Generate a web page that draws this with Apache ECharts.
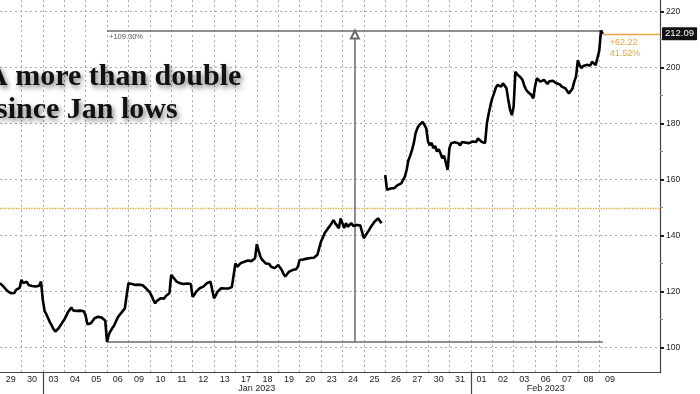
<!DOCTYPE html>
<html><head><meta charset="utf-8">
<script src="https://cdn.jsdelivr.net/npm/echarts@6/dist/echarts.min.js"></script>
<style>html,body{margin:0;padding:0;background:#fff}#c{width:700px;height:394px}</style>
</head><body><div id="c"></div>
<script>
// ---- data ----
const dayLabels = ['29','30','03','04','05','06','09','10','11','12','13','17','18','19','20','23','24','25','26','27','30','31','01','02','03','06','07','08','09'];
const monthNames = ['Jan 2023','Feb 2023'];
const monthStartIdx = [2, 22];
const yTicks = [100,120,140,160,180,200,220];
const yMinorTicks = [110,130,150,170,190,210];
const prevClose = 149.87;
const titleLines = ['A more than double','since Jan lows'];
const samplesPerDay = 12;

const dec29 = [122.9,122.2,121.7,121.0,120.2,119.5,119.3,119.8,119.4,120.5,120.3,121.2];
const dec30 = [124.1,123.0,122.9,123.4,122.3,122.6,121.9,122.1,121.7,122.2,122.0,123.5];
const jan03 = [117.0,113.0,111.8,110.4,108.9,107.8,106.5,105.6,106.2,106.9,107.6,108.9];
const jan04 = [109.8,111.0,112.4,113.3,114.2,113.2,113.9,113.0,113.7,113.1,113.6,112.9];
const jan05 = [111.4,108.2,107.5,108.6,109.3,110.4,109.9,110.9,110.3,110.6,110.0,109.6];
const jan06 = [101.9,104.5,105.8,106.9,107.8,109.2,110.6,111.5,112.0,113.1,113.9,113.3];
const jan09 = [122.9,123.5,122.6,122.9,122.3,123.0,122.4,121.8,122.2,121.6,121.0,120.3];
const jan10 = [119.6,118.4,116.9,115.7,116.6,116.2,117.5,117.9,117.4,118.3,118.6,119.3];
const jan11 = [125.9,125.1,124.5,123.5,124.0,122.9,123.3,122.6,122.3,122.8,122.4,122.6];
const jan12 = [118.0,118.8,119.9,120.5,121.1,120.6,121.7,121.2,122.9,122.4,123.5,123.9];
const jan13 = [117.5,118.6,119.9,120.6,121.1,120.5,121.0,121.4,121.0,121.7,121.5,122.2];
const jan17 = [130.0,128.8,129.5,130.1,129.7,130.6,130.3,131.0,131.2,130.8,131.5,131.8];
const jan18 = [136.9,134.6,132.4,131.3,130.9,130.0,129.4,129.8,128.8,129.1,128.3,128.8];
const jan19 = [129.4,128.8,127.6,126.2,125.3,125.9,127.0,126.6,127.6,128.3,127.9,128.8];
const jan20 = [131.2,130.6,131.4,130.9,131.7,131.2,131.9,132.3,132.0,132.6,133.1,133.6];
const jan23 = [137.8,139.2,140.8,141.5,142.6,143.4,144.4,145.5,144.3,143.7,142.6,146.1];
const jan24 = [144.4,142.6,144.4,143.1,143.8,144.4,143.4,144.1,143.7,144.4,143.6,143.7];
const jan25 = [139.0,139.6,141.0,142.0,143.1,143.8,144.9,145.5,146.1,145.2,144.4,null];
const jan26 = [161.6,156.3,155.7,156.8,157.4,156.9,157.6,158.0,157.3,158.6,159.2,161.0];
const jan27 = [163.4,166.9,168.5,170.5,172.9,176.5,178.3,179.4,180.0,180.6,179.5,178.3];
const jan30 = [173.6,172.3,173.1,171.2,172.0,170.0,170.8,169.4,167.6,168.5,166.0,163.4];
const jan31 = [171.2,173.0,172.4,173.3,172.6,173.0,172.2,173.4,172.8,173.2,172.5,173.0];
const feb01 = [173.0,173.6,174.1,173.4,174.7,174.0,173.5,174.2,173.0,180.0,183.5,186.5];
const feb02 = [189.0,190.8,192.8,193.8,194.4,193.2,194.4,193.8,192.6,188.5,185.0,183.0];
const feb03 = [186.0,198.5,197.6,197.4,196.5,195.6,193.5,192.1,191.3,190.8,190.2,189.0];
const feb06 = [193.2,196.2,195.5,195.0,194.6,195.6,195.0,194.2,195.1,194.5,195.3,195.0];
const feb07 = [194.4,195.0,194.0,193.2,193.8,192.6,192.0,190.8,190.2,192.5,195.0,196.8];
const feb08 = [202.7,200.9,199.8,200.6,200.2,201.0,201.5,200.8,202.1,201.4,200.9,201.6];
const feb09 = [206.0,213.28,212.09];

const sessions = [dec29,dec30,jan03,jan04,jan05,jan06,jan09,jan10,jan11,jan12,jan13,jan17,jan18,jan19,jan20,
  jan23,jan24,jan25,jan26,jan27,jan30,jan31,feb01,feb02,feb03,feb06,feb07,feb08,feb09];

// ---- derived ----
const pts = [];
let low = Infinity, high = -Infinity, xLow = 0, xHigh = 0, xEnd = 0, last = 0;
sessions.forEach((s, d) => s.forEach((v, k) => {
  const x = d + k / samplesPerDay;
  pts.push([x, v == null ? '-' : v]);
  if (v != null) {
    if (v < low) { low = v; xLow = x; }
    if (v > high) { high = v; xHigh = x; }
    xEnd = x; last = v;
  }
}));
const xMid = (xLow + xEnd) / 2;
const pctRange = ((high / low - 1) * 100).toFixed(2);
const chg = last - prevClose;
const chgPct = (chg / prevClose * 100).toFixed(2);

const boundaries = dayLabels.map((_, i) => i).filter(i => i > 0 && i < dayLabels.length);
const dayCenters = dayLabels.map((_, i) => i + 0.5);
const monthCenters = monthStartIdx.map((s, i) => (s + (i + 1 < monthStartIdx.length ? monthStartIdx[i + 1] : dayLabels.length)) / 2);

const X_MAX = 30.84, Y_MIN = 90.9, Y_MAX = 224.2;
const grayLine = {color: '#6a6a6a', width: 1.5, type: 'solid'};
const orange = '#e8a73c';
const font = 'Liberation Sans';
const shadow = {textShadowColor: 'rgba(0,0,0,0.5)', textShadowBlur: 5, textShadowOffsetX: 2, textShadowOffsetY: 3};

const chart = echarts.init(document.getElementById('c'), null, {renderer: 'canvas'});
chart.setOption({
  animation: false,
  backgroundColor: '#fff',
  grid: {left: -2.48, right: 40, top: 0, bottom: 21.3, containLabel: false},
  xAxis: [
    {type: 'value', min: 0, max: X_MAX, position: 'bottom',
      axisLine: {show: true, onZero: false, lineStyle: {color: '#444', width: 1.2}},
      axisTick: {show: false, customValues: boundaries},
      splitLine: {show: true, lineStyle: {color: '#aaa', type: [2, 3], width: 1}},
      axisLabel: {show: true, customValues: dayCenters, formatter: v => dayLabels[Math.floor(v)],
        fontSize: 9, color: '#222', margin: 2, fontFamily: font}
    },
    {type: 'value', min: 0, max: X_MAX, position: 'bottom',
      axisLine: {show: false, onZero: false},
      axisTick: {show: true, customValues: monthStartIdx, length: 24, lineStyle: {color: '#444', width: 1.2}},
      splitLine: {show: false},
      axisLabel: {show: true, customValues: monthCenters,
        formatter: v => monthNames[monthCenters.indexOf(v)],
        fontSize: 9, color: '#222', margin: 11, fontFamily: font}
    }
  ],
  yAxis: [
    {type: 'value', position: 'right', min: Y_MIN, max: Y_MAX,
      axisLine: {show: true, onZero: false, lineStyle: {color: '#444', width: 1.2}},
      axisTick: {show: true, customValues: yTicks, length: 4, lineStyle: {color: '#222', width: 2}},
      axisLabel: {show: true, customValues: yTicks, margin: 6, fontSize: 8.5, color: '#222', fontFamily: font},
      splitLine: {show: true, lineStyle: {color: '#aaa', type: [2, 3], width: 1}}
    },
    {type: 'value', position: 'right', min: Y_MIN, max: Y_MAX,
      axisLine: {show: false, onZero: false},
      axisTick: {show: true, customValues: yMinorTicks, length: 3, lineStyle: {color: '#888', width: 1}},
      axisLabel: {show: false}, splitLine: {show: false}
    }
  ],
  graphic: [
    {type: 'text', x: -14, y: 77, z: 100, style: Object.assign({text: titleLines[0], font: 'bold 30px "Liberation Serif"', fill: '#111',
      verticalAlign: 'middle'}, shadow)},
    {type: 'text', x: -4, y: 110, z: 100, style: Object.assign({text: titleLines[1], font: 'bold 30px "Liberation Serif"', fill: '#111',
      verticalAlign: 'middle'}, shadow)}
  ],
  series: [{
    type: 'line', data: pts, xAxisIndex: 0, yAxisIndex: 0, showSymbol: false, symbol: 'none',
    connectNulls: false, lineStyle: {color: '#000', width: 2.6}, z: 5,
    markLine: {
      silent: true, symbol: ['none', 'none'], animation: false,
      data: [
        {yAxis: prevClose, lineStyle: {color: orange, type: 'dotted', width: 1.3}, label: {show: false}},
        [{coord: [xLow, high], lineStyle: grayLine,
          label: {show: true, position: 'insideStartBottom', distance: 2, formatter: '+' + pctRange + '%',
            fontSize: 7.5, color: '#555', fontFamily: font}},
         {coord: [xEnd, high]}],
        [{coord: [xLow, low], lineStyle: grayLine, label: {show: false}}, {coord: [xEnd, low]}],
        [{coord: [xMid, low], lineStyle: grayLine, label: {show: false}, symbol: 'none'},
         {coord: [xMid, high], symbol: 'emptyTriangle', symbolSize: [8, 8], symbolOffset: [0, 4]}],
        [{coord: [xEnd, last], lineStyle: {color: orange, width: 1.3, type: 'solid'},
          label: {show: true, position: 'end', distance: 2, formatter: last.toFixed(2), backgroundColor: '#111',
            color: '#fff', padding: [2, 3, 1, 3], fontSize: 9.5, fontFamily: font, borderRadius: 1}},
         {coord: [X_MAX, last]}],
        [{coord: [xEnd, last], lineStyle: {color: 'rgba(0,0,0,0)', width: 0.1},
          label: {show: true, position: 'insideStartBottom', distance: 3, align: 'left',
            formatter: (chg >= 0 ? '+' : '') + chg.toFixed(2) + '\n' + chgPct + '%',
            fontSize: 9, lineHeight: 11, color: orange, fontFamily: font, padding: [0, 0, 0, 4]}},
         {coord: [X_MAX, last]}]
      ]
    }
  }]
});
</script></body></html>
